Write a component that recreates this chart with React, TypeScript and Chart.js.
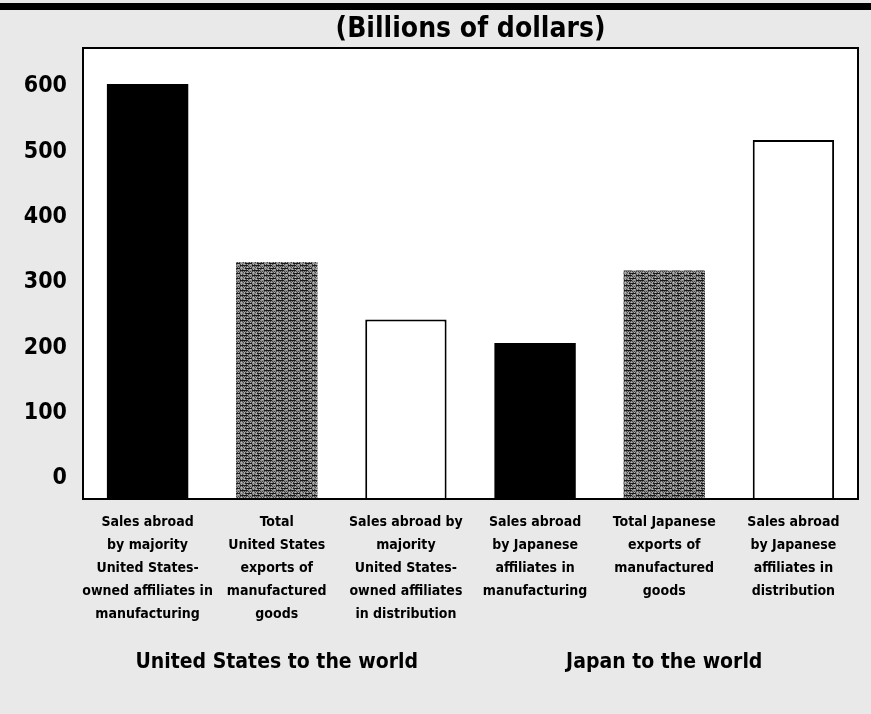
import React, { useEffect, useRef } from "react";
import { Chart, registerables } from "chart.js";

Chart.register(...registerables);

const categories: string[][] = [
  ["Sales abroad", "by majority", "United States-", "owned affiliates in", "manufacturing"],
  ["Total", "United States", "exports of", "manufactured", "goods"],
  ["Sales abroad by", "majority", "United States-", "owned affiliates", "in distribution"],
  ["Sales abroad", "by Japanese", "affiliates in", "manufacturing"],
  ["Total Japanese", "exports of", "manufactured", "goods"],
  ["Sales abroad", "by Japanese", "affiliates in", "distribution"],
];
const values = [604, 331, 243, 207, 318, 518];
const barKinds = ["black", "gray", "white", "black", "gray", "white"];
const yTicks = [0, 100, 200, 300, 400, 500, 600];
const groupLabels = ["United States to the world", "Japan to the world"];
const groupCenterIndex = [1, 4];
const title = "(Billions of dollars)";
const yMin = -32;
const yMax = 659;

const FONT = "'Liberation Sans Narrow', 'DejaVu Sans Condensed', 'Arial Narrow', sans-serif";

function makePattern(): CanvasPattern | string {
  const c = document.createElement("canvas");
  c.width = 12;
  c.height = 5;
  const g = c.getContext("2d");
  if (!g) return "#666";
  g.fillStyle = "#8c8c8c";
  g.fillRect(0, 0, 12, 5);
  g.fillStyle = "#1a1a1a";
  g.fillRect(0, 0, 8, 1);
  g.fillRect(5, 3, 7, 1);
  g.fillStyle = "#454545";
  for (let x = 0; x < 12; x += 2) { g.fillRect(x, 1, 1, 1); g.fillRect(x + 1, 2, 1, 1); g.fillRect(x, 4, 1, 1); }
  g.fillStyle = "#b5b5b5";
  for (let x = 1; x < 12; x += 3) { g.fillRect(x, 2, 1, 1); g.fillRect(x, 4, 1, 1); }
  const p = g.createPattern(c, "repeat");
  return p || "#666";
}

export default function App() {
  const ref = useRef<HTMLCanvasElement | null>(null);
  useEffect(() => {
    if (!ref.current) return;
    const pattern = makePattern();
    const fills = barKinds.map((k) => (k === "black" ? "#000000" : k === "gray" ? pattern : "#ffffff"));
    const borders = barKinds.map((k) => (k === "white" ? 2 : 0));

    const decor = {
      id: "decor",
      beforeDraw(chart: any) {
        const { ctx, chartArea: a, width } = chart;
        ctx.save();
        ctx.fillStyle = "#e9e9e9";
        ctx.fillRect(0, 0, width, chart.height);
        ctx.fillStyle = "#ffffff";
        ctx.fillRect(a.left, a.top, a.right - a.left, a.bottom - a.top);
        ctx.fillStyle = "#000000";
        ctx.fillRect(0, 3, width, 7);
        ctx.restore();
      },
      afterDraw(chart: any) {
        const { ctx, chartArea: a } = chart;
        const xs = chart.scales.x;
        ctx.save();
        ctx.strokeStyle = "#000";
        ctx.lineWidth = 2;
        ctx.strokeRect(a.left, a.top, a.right - a.left, a.bottom - a.top);
        ctx.fillStyle = "#000";
        ctx.textAlign = "center";
        ctx.textBaseline = "middle";
        ctx.font = `bold 28px ${FONT}`;
        ctx.fillText(title, (a.left + a.right) / 2, 30);
        ctx.font = `bold 21px ${FONT}`;
        groupLabels.forEach((t, i) => {
          ctx.fillText(t, xs.getPixelForValue(groupCenterIndex[i]), 663);
        });
        ctx.restore();
      },
    };

    const chart = new Chart(ref.current, {
      type: "bar",
      data: {
        labels: categories,
        datasets: [
          {
            data: values,
            base: yMin,
            backgroundColor: fills as any,
            borderColor: "#000000",
            borderWidth: borders,
            borderSkipped: "bottom",
            categoryPercentage: 1,
            barPercentage: 0.63,
          } as any,
        ],
      },
      options: {
        animation: false,
        responsive: false,
        layout: { padding: { top: 48, right: 13, left: 0, bottom: 0 } },
        plugins: { legend: { display: false }, tooltip: { enabled: false }, title: { display: false } },
        scales: {
          x: {
            grid: { display: false, drawTicks: false },
            border: { display: false },
            afterFit: (s: any) => { s.height = 215; },
            ticks: {
              color: "#000",
              padding: 12,
              maxRotation: 0,
              autoSkip: false,
              font: { family: FONT, size: 14, weight: "bold", lineHeight: "23px" as any },
            },
          },
          y: {
            min: yMin,
            max: yMax,
            grid: { display: false, drawTicks: false },
            border: { display: false },
            afterFit: (s: any) => { s.width = 83; },
            afterBuildTicks: (s: any) => { s.ticks = yTicks.map((v) => ({ value: v })); },
            ticks: {
              color: "#000",
              padding: 16,
              font: { family: FONT, size: 23, weight: "bold" },
            },
          },
        },
      },
      plugins: [decor],
    });
    return () => chart.destroy();
  }, []);

  return (
    <div style={{ position: "absolute", left: 0, top: 0, width: 871, height: 714 }}>
      <canvas ref={ref} width={871} height={714} style={{ width: 871, height: 714, display: "block" }} />
    </div>
  );
}
